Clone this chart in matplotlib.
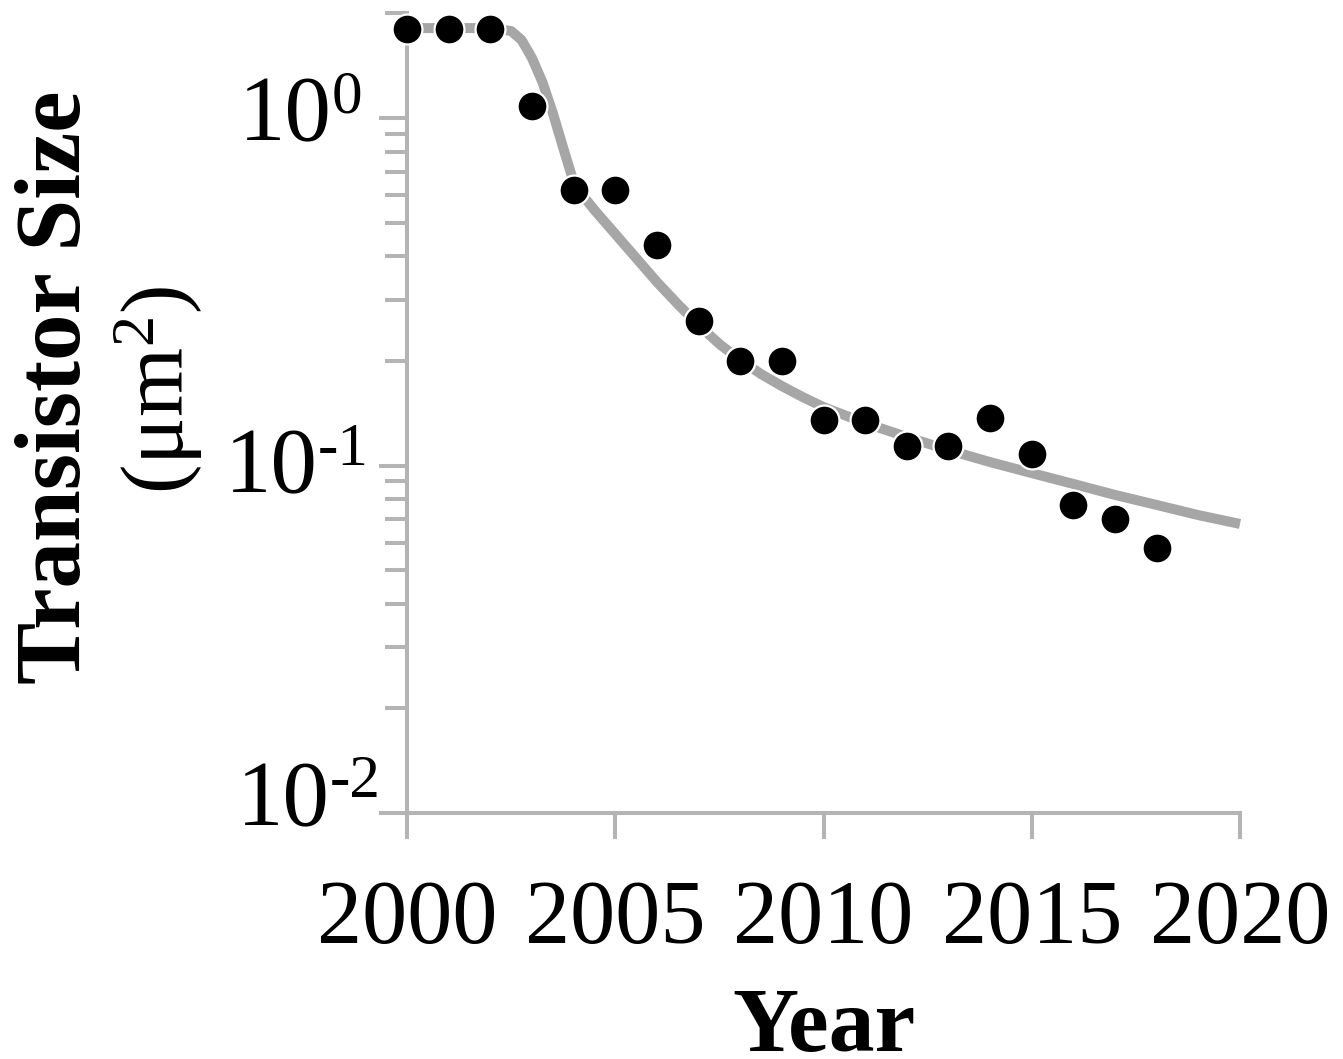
import numpy as np
import matplotlib
matplotlib.use("Agg")
import matplotlib.pyplot as plt
from matplotlib.ticker import FixedLocator, LogLocator, NullFormatter

plt.rcParams['font.family'] = ['Liberation Serif', 'DejaVu Serif']
plt.rcParams['mathtext.fontset'] = 'custom'
plt.rcParams['mathtext.rm'] = 'Liberation Serif'
plt.rcParams['mathtext.it'] = 'Liberation Serif:italic'
plt.rcParams['mathtext.bf'] = 'Liberation Serif:bold'

# measured transistor sizes (um^2)
years = list(range(2000, 2019))
sizes = [1.8, 1.8, 1.8, 1.08, 0.62, 0.62, 0.43, 0.26, 0.20, 0.20,
         0.135, 0.135, 0.114, 0.114, 0.137, 0.108, 0.077, 0.070, 0.058]

# trend curve
fit_years = [2000, 2001, 2002, 2002.5, 2002.75, 2003, 2003.25, 2003.5, 2003.75,
             2004, 2004.25, 2004.5, 2004.75, 2005, 2005.5, 2006, 2006.5, 2007,
             2007.5, 2008, 2008.5, 2009, 2009.5, 2010, 2011, 2012, 2013, 2014,
             2015, 2016, 2017, 2018, 2019, 2020]
fit_sizes = [1.815, 1.815, 1.815, 1.78, 1.677, 1.488, 1.269, 1.034, 0.82,
             0.654, 0.5925, 0.5435, 0.502, 0.4637, 0.3956, 0.3374, 0.2915, 0.2537,
             0.2237, 0.2012, 0.1833, 0.1693, 0.1574, 0.1473, 0.1325, 0.1208,
             0.1108, 0.1023, 0.0951, 0.0885, 0.0823, 0.0770, 0.0720, 0.0679]

xticks = [2000, 2005, 2010, 2015, 2020]
ytick_vals = [1e0, 1e-1, 1e-2]
ytick_sups = ['0', '-1', '-2']
# per-label nudges in pixels (x of "10" left edge, baseline drop)
ytick_nudge = [(-168, -22), (-182, -27), (-170, -12)]

axis_grey = '#b4b4b4'
line_grey = '#a6a6a6'

fig = plt.figure(figsize=(13.43, 10.59), dpi=100)
ax = fig.add_axes([0.3031, 0.2323, 0.6202, 0.755])

ax.plot(fit_years, fit_sizes, color=line_grey, lw=7.2, solid_capstyle='butt',
        solid_joinstyle='round', zorder=2, clip_on=False)
ax.plot(years, sizes, 'o', color='black', markersize=21.5, markeredgecolor='white',
        markeredgewidth=1.6, zorder=3, clip_on=False)

ax.set_yscale('log')
ax.set_xlim(2000, 2020)
ax.set_ylim(0.01, 2.0)

for side in ['top', 'right']:
    ax.spines[side].set_visible(False)
for side in ['left', 'bottom']:
    ax.spines[side].set_color(axis_grey)
    ax.spines[side].set_linewidth(2.9)

ax.xaxis.set_major_locator(FixedLocator(xticks))
ax.set_xticklabels([str(x) for x in xticks])
ax.tick_params(axis='x', which='major', length=18.7, width=2.9, color=axis_grey,
               labelsize=65, pad=29)
ax.xaxis.set_minor_locator(FixedLocator([]))

ax.yaxis.set_major_locator(FixedLocator(ytick_vals))
ax.yaxis.set_minor_locator(LogLocator(base=10, subs=np.arange(2, 10)))
ax.yaxis.set_major_formatter(NullFormatter())
ax.yaxis.set_minor_formatter(NullFormatter())
ax.tick_params(axis='y', which='major', length=20, width=2.9, color=axis_grey)
ax.tick_params(axis='y', which='minor', length=16, width=2.9, color=axis_grey)

for val, sup, (dx, dy) in zip(ytick_vals, ytick_sups, ytick_nudge):
    t = ax.annotate('10', xy=(0, val), xycoords=('axes fraction', 'data'),
                    xytext=(dx, dy), textcoords='offset pixels',
                    ha='left', va='baseline', fontsize=67, annotation_clip=False)
    ax.annotate(sup, xy=(1, val), xycoords=(t, 'data'),
                xytext=(0, dy + 28), textcoords='offset pixels',
                ha='left', va='baseline', fontsize=44, annotation_clip=False)

ax.annotate('Year', xy=(0.5, 0), xycoords='axes fraction', xytext=(0, -238),
            textcoords='offset pixels', ha='center', va='baseline',
            fontsize=66, fontweight='bold', annotation_clip=False)

fig.text(80 / 1343, 1 - 387 / 1059, 'Transistor Size', rotation=90,
         rotation_mode='anchor', ha='center', va='baseline',
         fontsize=67, fontweight='bold')
fig.text(183 / 1343, 1 - 390 / 1059, '(μm$^\\mathregular{2}$)', rotation=90,
         rotation_mode='anchor', ha='center', va='baseline', fontsize=64)

fig.savefig('out.png', dpi=100)
